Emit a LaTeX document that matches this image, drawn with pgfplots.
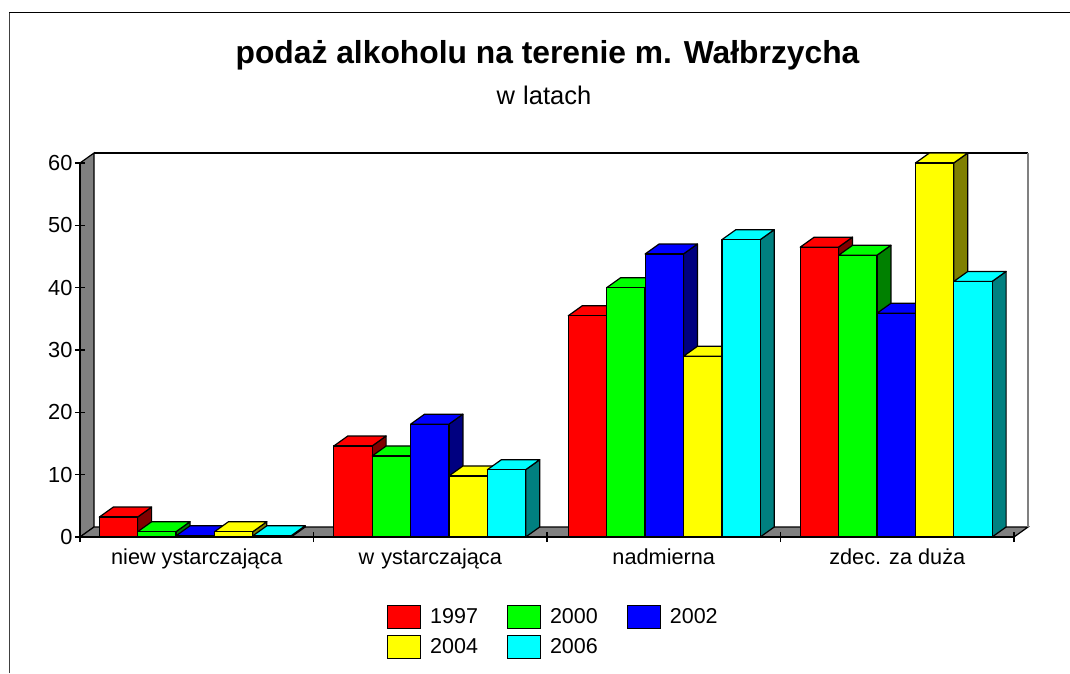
\documentclass[border=0pt]{standalone}
\usepackage{fontspec}
\setmainfont{Liberation Sans}
\usepackage{pgfplots}
\usepackage{pgfplotstable}
\pgfplotsset{compat=1.18}
\definecolor{c0}{RGB}{255,0,0}\definecolor{d0}{RGB}{128,0,0}
\definecolor{c1}{RGB}{0,255,0}\definecolor{d1}{RGB}{0,128,0}
\definecolor{c2}{RGB}{0,0,255}\definecolor{d2}{RGB}{0,0,128}
\definecolor{c3}{RGB}{255,255,0}\definecolor{d3}{RGB}{128,128,0}
\definecolor{c4}{RGB}{0,255,255}\definecolor{d4}{RGB}{0,128,128}
\pgfplotstableread{
cat y1997 y2000 y2002 y2004 y2006
0 3.2 0.85 0.2 0.85 0.2
1 14.6 13.0 18.1 9.8 10.8
2 35.5 40.0 45.4 29.0 47.7
3 46.5 45.2 35.9 60.0 41.0
}\data
% depth offset of the 3D look in data units
\def\dx{0.05996}
\def\dy{1.604}
\def\bw{0.16403}
\newcommand\onebar[2]{%
  \pgfmathtruncatemacro\col{#2+1}%
  \pgfplotstablegetelem{#1}{[index]\col}\of\data
  \let\v\pgfplotsretval
  \pgfmathsetmacro\off{{0,1.0,2.0,0.4}[#1]}%
  \pgfmathsetmacro\xa{#1+(19.3+\off+38.4*#2)/233.5}%
  \pgfmathsetmacro\xb{\xa+\bw}%
  \pgfmathsetmacro\xc{\xb+\dx}%
  \pgfmathsetmacro\xd{\xa+\dx}%
  \pgfmathsetmacro\yt{\v+\dy}%
  \edef\temp{%
    \noexpand\addplot[forget plot,fill=d#2,draw=black,line width=1.2pt,line join=round] coordinates {(\xb,0) (\xc,\dy) (\xc,\yt) (\xb,\v)} -- cycle;
    \noexpand\addplot[forget plot,fill=c#2,draw=black,line width=1.2pt,line join=round] coordinates {(\xa,\v) (\xd,\yt) (\xc,\yt) (\xb,\v)} -- cycle;
    \noexpand\addplot[forget plot,fill=c#2,draw=black,line width=1.2pt,line join=round] coordinates {(\xa,0) (\xa,\v) (\xb,\v) (\xb,0)} -- cycle;
  }\temp
}
\begin{document}
\begin{tikzpicture}[x=1pt,y=1pt]
\path[use as bounding box] (0,0) rectangle (1070,673);
\draw[line width=1pt,black!75] (9.5,0) -- (9.5,660);
\draw[line width=1pt,black] (9,660) -- (1070,660);
\node[font=\bfseries\fontsize{31.8}{34}\selectfont,anchor=center] at (547.5,617.5) {podaż alkoholu na terenie m. Wałbrzycha};
\node[font=\fontsize{25.5}{28}\selectfont,anchor=center] at (544,578) {w\kern1pt\ latach};
\begin{axis}[
  at={(80pt,136pt)},anchor=south west,
  width=934pt,height=374pt,scale only axis,
  xmin=0,xmax=4,ymin=0,ymax=60,
  clip=false,axis on top,
  axis x line=bottom,axis y line=left,
  axis line style={-,line width=1.2pt,black},
  xtick={0,1,2,3,4},x tick label as interval,
  xticklabels={{niew\kern6pt ystarczająca},{w\kern7pt ystarczająca},nadmierna,{zdec. za duża}},
  ytick={0,10,20,30,40,50,60},
  tick align=center,
  major tick length=10pt,
  tick style={line width=1.2pt,black},
  /pgf/number format/assume math mode=true,
  tick label style={font=\fontsize{21.8}{24}\selectfont},
  xticklabel style={font=\fontsize{21.7}{24}\selectfont,yshift=-3pt},
  yticklabel style={xshift=1pt},
  legend style={at={(0.3287,-0.1818)},anchor=north west,draw=none,fill=none,inner sep=0pt,
    legend columns=3,font=\fontsize{21.5}{24}\selectfont,
    /tikz/every odd column/.style={column sep=7pt},
    /tikz/every even column/.style={column sep=27pt},
    row sep=6pt,cells={anchor=west}},
  legend image code/.code={\draw[#1,line width=1pt] (0pt,-11.5pt) rectangle (33pt,11.5pt);},
]
% walls and floor
\addplot[forget plot,fill=black!50,draw=black,line width=1.2pt] coordinates {(0,0) (0.05996,1.604) (0.05996,61.604) (0,60)} -- cycle;
\addplot[forget plot,fill=black!50,draw=black,line width=1.2pt] coordinates {(0,0) (0.05996,1.604) (4.05996,1.604) (4,0)} -- cycle;
\addplot[forget plot,draw=black,line width=1.2pt] coordinates {(0.05996,61.604) (4.06,61.604)};
\addplot[forget plot,draw=black!50,line width=1.2pt] coordinates {(4.05996,61.604) (4.05996,1.604)};
\pgfplotsforeachungrouped \g in {0,1,2,3}{%
  \pgfplotsforeachungrouped \i in {0,1,2,3,4}{%
    \edef\callit{\noexpand\onebar{\g}{\i}}\callit
  }%
}
\addlegendimage{fill=c0,draw=black}\addlegendentry{1997}
\addlegendimage{fill=c1,draw=black}\addlegendentry{2000}
\addlegendimage{fill=c2,draw=black}\addlegendentry{2002}
\addlegendimage{fill=c3,draw=black}\addlegendentry{2004}
\addlegendimage{fill=c4,draw=black}\addlegendentry{2006}
\end{axis}
\end{tikzpicture}
\end{document}
